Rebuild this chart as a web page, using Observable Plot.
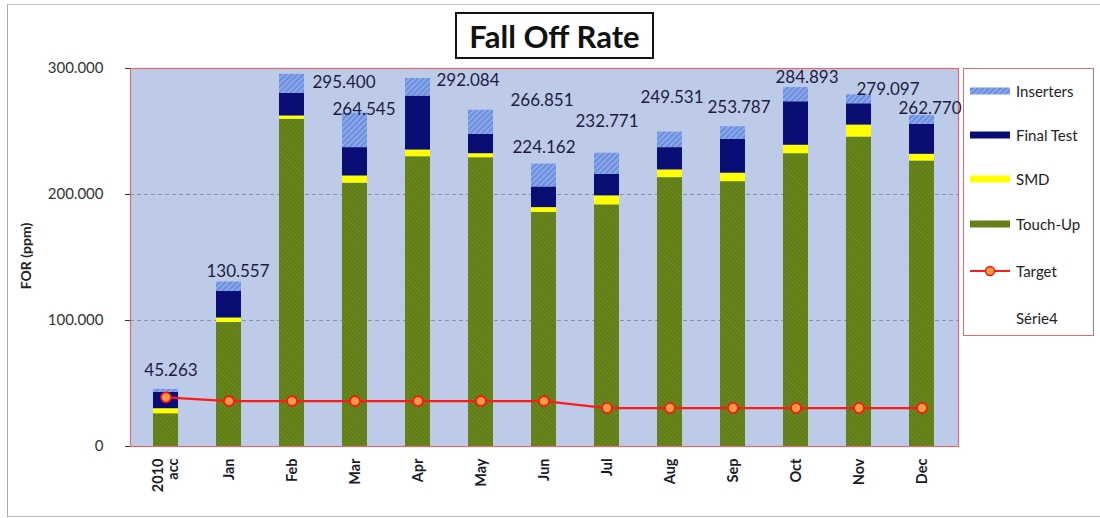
<!DOCTYPE html>
<html><head><meta charset="utf-8">
<script src="https://cdn.jsdelivr.net/npm/d3@7"></script>
<script src="https://cdn.jsdelivr.net/npm/@observablehq/plot@0.6"></script>
<style>
body{margin:0;background:#fff;font-family:Lato,"Open Sans",sans-serif;}
#wrap{position:relative;width:1100px;height:518px;overflow:hidden;background:#fff;}
#frame{position:absolute;left:7px;top:4px;width:1100px;height:511px;border-left:1px solid #aaa;border-top:1px solid #c4c4c4;border-bottom:1px solid #bbb;}
#chart{position:absolute;left:0;top:0;}
#title{position:absolute;left:455px;top:12px;width:199px;height:47px;border:2px solid #111;background:#fff;
  font:bold 31px Lato,sans-serif;color:#111;display:flex;align-items:center;justify-content:center;box-sizing:border-box;}
#ytitle{position:absolute;left:25px;top:256px;transform:translate(-50%,-50%) rotate(-90deg);font:bold 14px Lato,sans-serif;color:#222;white-space:nowrap;}
#legend{position:absolute;left:963px;top:68px;width:131px;height:268px;border:1.5px solid #e06b6b;box-sizing:border-box;background:#fff;}
.li{position:absolute;left:6px;height:20px;display:flex;align-items:center;font:15px Lato,sans-serif;color:#222;}
.li svg{margin-right:6px;}
</style></head>
<body>
<div id="wrap">
  <div id="frame"></div>
  <div id="chart"></div>
  <div id="title">Fall Off Rate</div>
  <div id="ytitle">FOR (ppm)</div>
  <div id="legend"></div>
</div>
<script>
// ---- data ----
const categories = ["2010\nacc","Jan","Feb","Mar","Apr","May","Jun","Jul","Aug","Sep","Oct","Nov","Dec"];
const touchUp   = [26000, 98500, 259700, 209000, 230000, 229200, 185700, 191800, 213400, 210200, 232400, 245600, 226600];
const smd       = [4000, 3500, 2600, 5700, 5300, 3200, 3900, 7100, 6100, 6700, 6700, 9500, 5300];
const finalTest = [13000, 21000, 18000, 22500, 42800, 15400, 16400, 17100, 17700, 26900, 34500, 16900, 23800];
const inserters = [2263, 7557, 15100, 27345, 13984, 19051, 18162, 16771, 12331, 9987, 11293, 7097, 7070];
const totals    = [45263, 130557, 295400, 264545, 292084, 266851, 224162, 232771, 249531, 253787, 284893, 279097, 262770];
const target    = [39000, 36000, 36000, 36000, 36000, 36000, 36000, 30500, 30500, 30500, 30500, 30500, 30500];
const seriesNames = ["Touch-Up","SMD","Final Test","Inserters"];
const yTicks = [0, 100000, 200000, 300000];

// ---- layout / style (not data) ----
const fills = {"Touch-Up":"url(#pTouch)","SMD":"#ffff00","Final Test":"#0a0e74","Inserters":"url(#pIns)"};
const labelDx = [5, 9, 52, 9, 50, 61, 0, 0, 2, 6, 11, 29, 8];
const labelDy = [-19, -10, 8, -4, 2, -10, -17, -32, -35, -19, -10, -5, -7];

const seriesValues = {"Touch-Up":touchUp,"SMD":smd,"Final Test":finalTest,"Inserters":inserters};
const rows = [];
categories.forEach((c,i)=>seriesNames.forEach(s=>rows.push({cat:c, series:s, value:seriesValues[s][i]})));
const targetRows = categories.map((c,i)=>({cat:c, value:target[i]}));
const totalRows = categories.map((c,i)=>({cat:c, value:totals[i]}));

const loc = d3.formatLocale({decimal:",", thousands:".", grouping:[3], currency:["",""]});
const fmt = loc.format(",");

const marks = [
  Plot.frame({fill:"#bdcbe8", stroke:null}),
  Plot.ruleY([100000,200000], {stroke:"#8590ab", strokeDasharray:"4,3", strokeWidth:1}),
  Plot.barY(rows, Plot.stackY({x:"cat", y:"value", fill:d=>fills[d.series]})),
  Plot.line(targetRows, {x:"cat", y:"value", stroke:"#ff1a1a", strokeWidth:2.2}),
  Plot.dot(targetRows, {x:"cat", y:"value", r:5, fill:"#f59a45", stroke:"#ff1010", strokeWidth:1.6}),
  Plot.frame({stroke:"#e06b6b", strokeWidth:1.2}),
  Plot.axisY({ticks:yTicks, tickFormat:fmt, tickSize:5, tickPadding:22, fontSize:15, color:"#333", label:null}),
  Plot.axisX({tickSize:0, tickPadding:12, tickRotate:-90, fontSize:14.5, fontWeight:"bold", color:"#1a1a2a", label:null}),
  ...totalRows.map((d,i)=>Plot.text([d], {x:"cat", y:"value", text:d=>fmt(d.value), dx:labelDx[i], dy:labelDy[i], fontSize:17, fill:"#1c1c40"}))
];

const svg = Plot.plot({
  width:1100, height:518,
  marginLeft:130, marginRight:142, marginTop:68, marginBottom:72,
  x:{domain:categories, paddingInner:0.6, paddingOuter:0.3, label:null},
  y:{domain:[0,300000], label:null},
  color:{type:"identity"},
  style:{fontFamily:"Lato, sans-serif", background:"transparent", overflow:"visible"},
  marks
});

d3.select(svg).insert("defs", ":first-child").html(`
  <pattern id="pIns" patternUnits="userSpaceOnUse" width="4" height="4" patternTransform="rotate(-45)">
    <rect width="4" height="4" fill="#6a8ddf"/>
    <line x1="0" y1="1" x2="4" y2="1" stroke="#a3bcef" stroke-width="1.2"/>
  </pattern>
  <pattern id="pTouch" patternUnits="userSpaceOnUse" width="3" height="3" patternTransform="rotate(45)">
    <rect width="3" height="3" fill="#6e8c1f"/>
    <line x1="0" y1="1" x2="3" y2="1" stroke="#506c10" stroke-width="1"/>
  </pattern>
`);
document.getElementById("chart").appendChild(svg);

// legend
const legendItems = [
  {name:"Inserters", type:"rect", fill:"url(#pIns)", y:22},
  {name:"Final Test", type:"rect", fill:"#0a0e74", y:66},
  {name:"SMD", type:"rect", fill:"#ffff00", y:110},
  {name:"Touch-Up", type:"rect", fill:"url(#pTouch)", y:155},
  {name:"Target", type:"line", y:202},
  {name:"Série4", type:"none", y:249}
];
const legend = document.getElementById("legend");
legendItems.forEach(it=>{
  const div = document.createElement("div");
  div.className = "li";
  div.style.top = (it.y - 10) + "px";
  let sw = "";
  if (it.type === "rect") sw = `<svg width="40" height="10"><rect x="0" y="1.5" width="40" height="7" fill="${it.fill}"/></svg>`;
  else if (it.type === "line") sw = `<svg width="40" height="12"><line x1="0" y1="6" x2="40" y2="6" stroke="#ff1a1a" stroke-width="2"/><circle cx="20" cy="6" r="4.5" fill="#f59a45" stroke="#ff1010" stroke-width="1.4"/></svg>`;
  else sw = `<svg width="40" height="10"></svg>`;
  div.innerHTML = sw + `<span>${it.name}</span>`;
  legend.appendChild(div);
});
</script>
</body></html>
